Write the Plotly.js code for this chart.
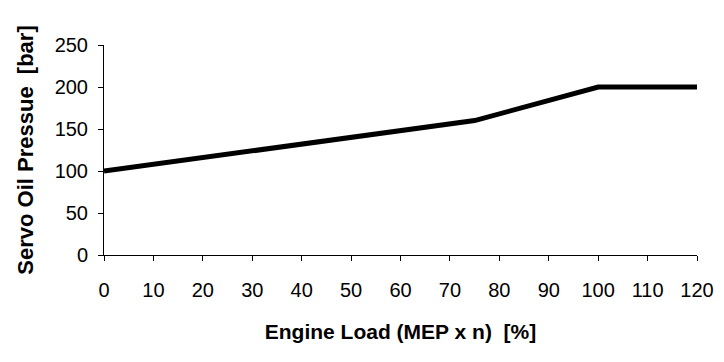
<!DOCTYPE html>
<html><head><meta charset="utf-8">
<script src="https://cdn.plot.ly/plotly-3.0.1.min.js"></script>
<style>html,body{margin:0;padding:0;background:#fff}</style>
</head><body><div id="chart" style="width:724px;height:362px"></div>
<script>
const engineLoad = [0, 75, 100, 120];
const servoOilPressure = [100, 160, 200, 200];
const xTicks = [0,10,20,30,40,50,60,70,80,90,100,110,120];
const yTicks = [0,50,100,150,200,250];

const font = {family: 'Liberation Sans, Arial, sans-serif', size: 20, color: '#000'};
const xtfont = {family: 'Liberation Sans, Arial, sans-serif', size: 21, color: '#000'};
const ytfont = {family: 'Liberation Sans, Arial, sans-serif', size: 22, color: '#000'};
Plotly.newPlot('chart', [{
  x: engineLoad, y: servoOilPressure, type: 'scatter', mode: 'lines',
  line: {color: '#000', width: 5}, hoverinfo: 'skip'
}], {
  width: 724, height: 362,
  margin: {l: 104, r: 27, t: 45, b: 107},
  paper_bgcolor: '#fff', plot_bgcolor: '#fff',
  font: font,
  showlegend: false,
  xaxis: {
    range: [0, 120], tickvals: xTicks, ticktext: xTicks.map(String),
    showgrid: false, zeroline: false, showline: true, linecolor: '#000', linewidth: 1,
    ticks: 'outside', ticklen: 5, tickcolor: '#000', ticklabelstandoff: 12,
    tickfont: font,
    title: {text: '<b>Engine Load (MEP x n)\u00a0\u00a0[%]</b>', font: xtfont, standoff: 24}
  },
  yaxis: {
    range: [0, 250], tickvals: yTicks, ticktext: yTicks.map(String),
    showgrid: false, zeroline: false, showline: true, linecolor: '#000', linewidth: 1,
    ticks: 'outside', ticklen: 5, tickcolor: '#000', ticklabelstandoff: 6,
    tickfont: font,
    title: {text: '<b>Servo Oil Pressue\u00a0\u00a0[bar]</b>', font: ytfont, standoff: 14}
  }
}, {staticPlot: true});
</script></body></html>
